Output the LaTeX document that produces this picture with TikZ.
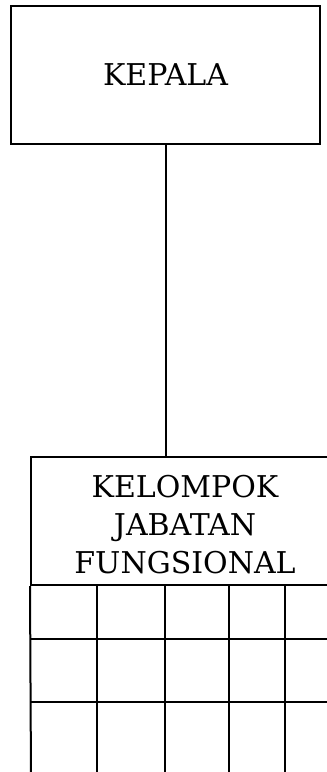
\documentclass[tikz,border=0pt]{standalone}
\usepackage{fontspec}
\setmainfont{DejaVu Serif}
\begin{document}
\begin{tikzpicture}[x=1pt,y=-1pt,
  boxline/.style={draw=black,line width=2pt},
  gridline/.style={draw=black,line width=2pt},
  labeltext/.style={font=\fontsize{30}{38}\selectfont,align=center,inner sep=0pt}]
\useasboundingbox (0,0) rectangle (327,772);
\clip (0,0) rectangle (327,772);
\node[boxline,rectangle,minimum width=309pt,minimum height=138pt,inner sep=0pt] (kepala) at (165.5,75) {};
\node[labeltext] (kepalatext) at (165.5,75) {KEPALA};
\node[boxline,rectangle,minimum width=308pt,minimum height=128pt,inner sep=0pt] (header) at (185,521) {};
\node[labeltext] (headertext) at (185,525) {KELOMPOK\\JABATAN\\FUNGSIONAL};
\coordinate (c1) at (97,585);
\coordinate (c2) at (165,585);
\coordinate (c3) at (229,585);
\coordinate (c4) at (285,585);
\coordinate (b1) at (97,780);
\coordinate (b2) at (165,780);
\coordinate (b3) at (229,780);
\coordinate (b4) at (285,780);
\coordinate (bl) at (31,780);
\coordinate (r1l) at (31,639);
\coordinate (r1r) at (339,639);
\coordinate (r2l) at (31,702);
\coordinate (r2r) at (339,702);
\draw[gridline] (header.south west) -- (bl);
\draw[gridline] (header.south east) -- (header.south east |- bl);
\draw[gridline] (c1) -- (b1);
\draw[gridline] (c2) -- (b2);
\draw[gridline] (c3) -- (b3);
\draw[gridline] (c4) -- (b4);
\draw[gridline] (r1l) -- (r1r);
\draw[gridline] (r2l) -- (r2r);
\draw[gridline] (kepala.south) -- (kepala.south |- header.north);
\end{tikzpicture}
\end{document}
